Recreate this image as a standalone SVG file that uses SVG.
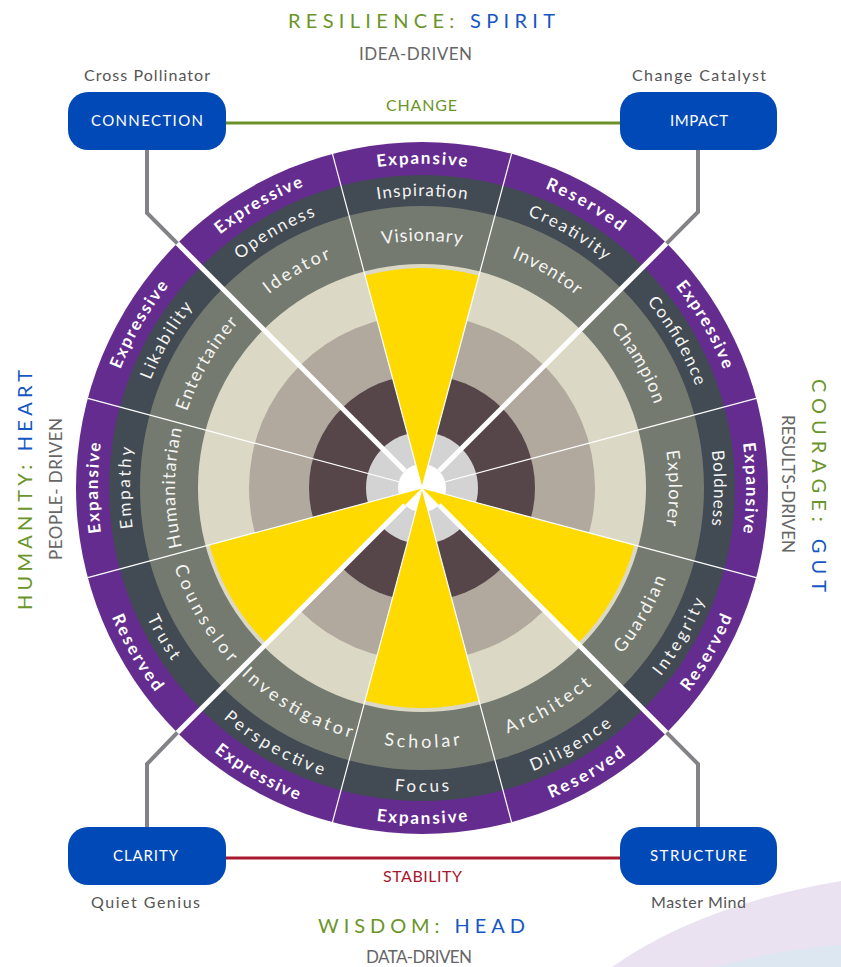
<svg xmlns="http://www.w3.org/2000/svg" width="841" height="967" viewBox="0 0 841 967">
<defs>
<style>
text{font-family:Lato,"Open Sans","Liberation Sans",sans-serif}
.role{font-size:18px;fill:#F4F4F2}
.trait{font-size:17px;fill:#F4F4F2}
.style{font-size:17px;font-weight:700;fill:#FFFFFF}
.hl{fill:#FFDA00}
.thin{stroke:#FFFFFF;stroke-width:1.2}
.thick{stroke:#FFFFFF;stroke-width:5}
.conn{fill:none;stroke:#838387;stroke-width:4}
.box{fill:#0049B7}
.boxlbl{font-size:15px;fill:#FFFFFF;text-anchor:start}
.sub{font-size:16px;fill:#555555}
.title{font-size:20px}
.drv{font-size:17px;fill:#666666}
.g{fill:#6B9528}
.b{fill:#1556C4}
</style>
<path id="gcw" d="M189.9,403.5 A247,247 0 0 1 654.1,403.5"/>
<path id="gccw" d="M177.7,576.9 A260,260 0 0 0 666.3,576.9"/>
<path id="scw" d="M147.6,388.1 A292,292 0 0 1 696.4,388.1"/>
<path id="sccw" d="M136.3,592.0 A304,304 0 0 0 707.7,592.0"/>
<path id="pcw" d="M117.5,377.2 A324,324 0 0 1 726.5,377.2"/>
<path id="pccw" d="M106.3,602.9 A336,336 0 0 0 737.7,602.9"/>
</defs>
<rect width="841" height="967" fill="#FFFFFF"/>
<path d="M612,967 Q700,905 841,881 L841,967 Z" fill="#EAE2F0"/>
<path d="M716,967 Q775,950 841,945 L841,967 Z" fill="#DDE7F2"/>

<g id="titles">
<text class="title" x="288" y="28" textLength="267" lengthAdjust="spacing"><tspan class="g">RESILIENCE:</tspan> <tspan class="b">SPIRIT</tspan></text>
<text class="drv" x="359" y="60" textLength="113" lengthAdjust="spacing">IDEA-DRIVEN</text>
<text class="title" x="318" y="933" textLength="207" lengthAdjust="spacing"><tspan class="g">WISDOM:</tspan> <tspan class="b">HEAD</tspan></text>
<text class="drv" x="366" y="963" textLength="106" lengthAdjust="spacing">DATA-DRIVEN</text>
<g transform="translate(32,490) rotate(-90)">
<text class="title" x="-120" y="0" textLength="240" lengthAdjust="spacing"><tspan class="g">HUMANITY:</tspan> <tspan class="b">HEART</tspan></text>
</g>
<g transform="translate(62,489) rotate(-90)">
<text class="drv" x="-71" y="0" textLength="142" lengthAdjust="spacing">PEOPLE- DRIVEN</text>
</g>
<g transform="translate(812,486) rotate(90)">
<text class="title" x="-107" y="0" textLength="213" lengthAdjust="spacing"><tspan class="g">COURAGE:</tspan> <tspan class="b">GUT</tspan></text>
</g>
<g transform="translate(782,484) rotate(90)">
<text class="drv" x="-69" y="0" textLength="138" lengthAdjust="spacing">RESULTS-DRIVEN</text>
</g>
</g>

<g id="wheel-rings">
<circle cx="422" cy="488" r="346" fill="#652C8F"/>
<circle cx="422" cy="488" r="313" fill="#424A53"/>
<circle cx="422" cy="488" r="282" fill="#747A70"/>
<circle cx="422" cy="488" r="224" fill="#DBD9C6"/>
<circle cx="422" cy="488" r="173" fill="#B1A89E"/>
<circle cx="422" cy="488" r="113" fill="#56464A"/>
<circle cx="422" cy="488" r="56" fill="#D3D3D3"/>
<circle cx="422" cy="488" r="24" fill="#FFFFFF"/>
</g>

<g id="sector-visionary" transform="rotate(0 422 488)">
<path class="hl" d="M422,488 L365.1,275.5 A220,220 0 0 1 478.9,275.5 Z"/>
<text class="role" text-anchor="middle"><textPath href="#gcw" startOffset="50%" textLength="80" lengthAdjust="spacing">Visionary</textPath></text>
<text class="trait" text-anchor="middle"><textPath href="#scw" startOffset="50%" textLength="90" lengthAdjust="spacing">Inspiration</textPath></text>
<text class="style" text-anchor="middle"><textPath href="#pcw" startOffset="50%" textLength="90" lengthAdjust="spacing">Expansive</textPath></text>
</g>
<g id="sector-inventor" transform="rotate(30 422 488)">
<text class="role" text-anchor="middle"><textPath href="#gcw" startOffset="50%" textLength="75" lengthAdjust="spacing">Inventor</textPath></text>
<text class="trait" text-anchor="middle"><textPath href="#scw" startOffset="50%" textLength="90" lengthAdjust="spacing">Creativity</textPath></text>
<text class="style" text-anchor="middle"><textPath href="#pcw" startOffset="50%" textLength="87" lengthAdjust="spacing">Reserved</textPath></text>
</g>
<g id="sector-champion" transform="rotate(60 422 488)">
<text class="role" text-anchor="middle"><textPath href="#gcw" startOffset="50%" textLength="88" lengthAdjust="spacing">Champion</textPath></text>
<text class="trait" text-anchor="middle"><textPath href="#scw" startOffset="50%" textLength="98" lengthAdjust="spacing">Confidence</textPath></text>
<text class="style" text-anchor="middle"><textPath href="#pcw" startOffset="50%" textLength="97" lengthAdjust="spacing">Expressive</textPath></text>
</g>
<g id="sector-explorer" transform="rotate(90 422 488)">
<text class="role" text-anchor="middle"><textPath href="#gcw" startOffset="50%" textLength="75" lengthAdjust="spacing">Explorer</textPath></text>
<text class="trait" text-anchor="middle"><textPath href="#scw" startOffset="50%" textLength="75" lengthAdjust="spacing">Boldness</textPath></text>
<text class="style" text-anchor="middle"><textPath href="#pcw" startOffset="50%" textLength="90" lengthAdjust="spacing">Expansive</textPath></text>
</g>
<g id="sector-guardian" transform="rotate(-60 422 488)">
<path class="hl" d="M422,488 L365.1,700.5 A220,220 0 0 0 478.9,700.5 Z"/>
<text class="role" text-anchor="middle"><textPath href="#gccw" startOffset="50%" textLength="88" lengthAdjust="spacing">Guardian</textPath></text>
<text class="trait" text-anchor="middle"><textPath href="#sccw" startOffset="50%" textLength="88" lengthAdjust="spacing">Integrity</textPath></text>
<text class="style" text-anchor="middle"><textPath href="#pccw" startOffset="50%" textLength="87" lengthAdjust="spacing">Reserved</textPath></text>
</g>
<g id="sector-architect" transform="rotate(-30 422 488)">
<text class="role" text-anchor="middle"><textPath href="#gccw" startOffset="50%" textLength="98" lengthAdjust="spacing">Architect</textPath></text>
<text class="trait" text-anchor="middle"><textPath href="#sccw" startOffset="50%" textLength="92" lengthAdjust="spacing">Diligence</textPath></text>
<text class="style" text-anchor="middle"><textPath href="#pccw" startOffset="50%" textLength="87" lengthAdjust="spacing">Reserved</textPath></text>
</g>
<g id="sector-scholar" transform="rotate(0 422 488)">
<path class="hl" d="M422,488 L365.1,700.5 A220,220 0 0 0 478.9,700.5 Z"/>
<text class="role" text-anchor="middle"><textPath href="#gccw" startOffset="50%" textLength="77" lengthAdjust="spacing">Scholar</textPath></text>
<text class="trait" text-anchor="middle"><textPath href="#sccw" startOffset="50%" textLength="55" lengthAdjust="spacing">Focus</textPath></text>
<text class="style" text-anchor="middle"><textPath href="#pccw" startOffset="50%" textLength="92" lengthAdjust="spacing">Expansive</textPath></text>
</g>
<g id="sector-investigator" transform="rotate(30 422 488)">
<text class="role" text-anchor="middle"><textPath href="#gccw" startOffset="50%" textLength="128" lengthAdjust="spacing">Investigator</textPath></text>
<text class="trait" text-anchor="middle"><textPath href="#sccw" startOffset="50%" textLength="115" lengthAdjust="spacing">Perspective</textPath></text>
<text class="style" text-anchor="middle"><textPath href="#pccw" startOffset="50%" textLength="97" lengthAdjust="spacing">Expressive</textPath></text>
</g>
<g id="sector-counselor" transform="rotate(60 422 488)">
<path class="hl" d="M422,488 L365.1,700.5 A220,220 0 0 0 478.9,700.5 Z"/>
<text class="role" text-anchor="middle"><textPath href="#gccw" startOffset="50%" textLength="112" lengthAdjust="spacing">Counselor</textPath></text>
<text class="trait" text-anchor="middle"><textPath href="#sccw" startOffset="50%" textLength="50" lengthAdjust="spacing">Trust</textPath></text>
<text class="style" text-anchor="middle"><textPath href="#pccw" startOffset="50%" textLength="87" lengthAdjust="spacing">Reserved</textPath></text>
</g>
<g id="sector-humanitarian" transform="rotate(-90 422 488)">
<text class="role" text-anchor="middle"><textPath href="#gcw" startOffset="50%" textLength="119" lengthAdjust="spacing">Humanitarian</textPath></text>
<text class="trait" text-anchor="middle"><textPath href="#scw" startOffset="50%" textLength="81" lengthAdjust="spacing">Empathy</textPath></text>
<text class="style" text-anchor="middle"><textPath href="#pcw" startOffset="50%" textLength="90" lengthAdjust="spacing">Expansive</textPath></text>
</g>
<g id="sector-entertainer" transform="rotate(-60 422 488)">
<text class="role" text-anchor="middle"><textPath href="#gcw" startOffset="50%" textLength="103" lengthAdjust="spacing">Entertainer</textPath></text>
<text class="trait" text-anchor="middle"><textPath href="#scw" startOffset="50%" textLength="85" lengthAdjust="spacing">Likability</textPath></text>
<text class="style" text-anchor="middle"><textPath href="#pcw" startOffset="50%" textLength="97" lengthAdjust="spacing">Expressive</textPath></text>
</g>
<g id="sector-ideator" transform="rotate(-30 422 488)">
<text class="role" text-anchor="middle"><textPath href="#gcw" startOffset="50%" textLength="72" lengthAdjust="spacing">Ideator</textPath></text>
<text class="trait" text-anchor="middle"><textPath href="#scw" startOffset="50%" textLength="88" lengthAdjust="spacing">Openness</textPath></text>
<text class="style" text-anchor="middle"><textPath href="#pcw" startOffset="50%" textLength="97" lengthAdjust="spacing">Expressive</textPath></text>
</g>

<g id="dividers">
<line class="thin" x1="422" y1="488" x2="422" y2="142" transform="rotate(15 422 488)"/>
<line class="thin" x1="422" y1="488" x2="422" y2="142" transform="rotate(75 422 488)"/>
<line class="thin" x1="422" y1="488" x2="422" y2="142" transform="rotate(105 422 488)"/>
<line class="thin" x1="422" y1="488" x2="422" y2="142" transform="rotate(165 422 488)"/>
<line class="thin" x1="422" y1="488" x2="422" y2="142" transform="rotate(195 422 488)"/>
<line class="thin" x1="422" y1="488" x2="422" y2="142" transform="rotate(255 422 488)"/>
<line class="thin" x1="422" y1="488" x2="422" y2="142" transform="rotate(285 422 488)"/>
<line class="thin" x1="422" y1="488" x2="422" y2="142" transform="rotate(345 422 488)"/>
<line class="thick" x1="422" y1="464" x2="422" y2="142" transform="rotate(45 422 488)"/>
<line class="thick" x1="422" y1="464" x2="422" y2="142" transform="rotate(135 422 488)"/>
<line class="thick" x1="422" y1="464" x2="422" y2="142" transform="rotate(225 422 488)"/>
<line class="thick" x1="422" y1="464" x2="422" y2="142" transform="rotate(315 422 488)"/>
</g>

<g id="connectors">
<polyline class="conn" points="147,150 147,213 177.3,243.3"/>
<polyline class="conn" points="698,150 698,212 666.7,243.3"/>
<polyline class="conn" points="147,827 147,764 177.3,732.7"/>
<polyline class="conn" points="698,827 698,764 666.7,732.7"/>
<line x1="226" y1="123" x2="620" y2="123" stroke="#6B9128" stroke-width="3"/>
<line x1="226" y1="858" x2="620" y2="858" stroke="#A8182E" stroke-width="3"/>
<text x="386" y="111" font-size="16" fill="#6B9528" textLength="71" lengthAdjust="spacing">CHANGE</text>
<text x="383" y="882" font-size="16" fill="#A8182E" textLength="79" lengthAdjust="spacing">STABILITY</text>
</g>

<g id="node-connection">
<rect class="box" x="68" y="92" width="158" height="58" rx="20"/>
<text class="boxlbl" x="91" y="126" textLength="112" lengthAdjust="spacing">CONNECTION</text>
<text class="sub" x="84" y="81" textLength="126" lengthAdjust="spacing">Cross Pollinator</text>
</g>
<g id="node-impact">
<rect class="box" x="620" y="92" width="157" height="58" rx="20"/>
<text class="boxlbl" x="670" y="126" textLength="58" lengthAdjust="spacing">IMPACT</text>
<text class="sub" x="632" y="81" textLength="134" lengthAdjust="spacing">Change Catalyst</text>
</g>
<g id="node-clarity">
<rect class="box" x="68" y="827" width="158" height="58" rx="20"/>
<text class="boxlbl" x="113" y="861" textLength="65" lengthAdjust="spacing">CLARITY</text>
<text class="sub" x="91" y="908" textLength="109" lengthAdjust="spacing">Quiet Genius</text>
</g>
<g id="node-structure">
<rect class="box" x="620" y="827" width="157" height="58" rx="20"/>
<text class="boxlbl" x="650" y="861" textLength="97" lengthAdjust="spacing">STRUCTURE</text>
<text class="sub" x="651" y="908" textLength="95" lengthAdjust="spacing">Master Mind</text>
</g>
</svg>
